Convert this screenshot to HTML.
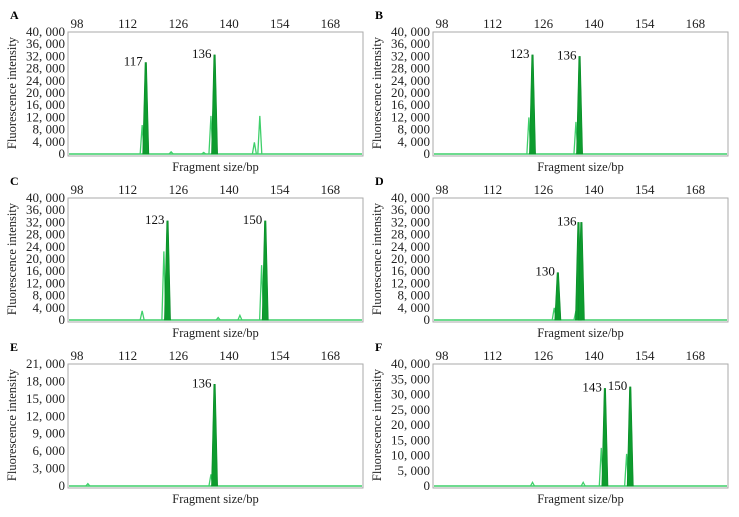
<!DOCTYPE html>
<html><head><meta charset="utf-8"><style>
body{margin:0;background:#fff;font-family:"Liberation Serif","DejaVu Serif",serif;}
svg text{font-family:"Liberation Serif","DejaVu Serif",serif !important;}
</style></head><body>
<svg id="c" width="739" height="512" xmlns="http://www.w3.org/2000/svg" font-family="Liberation Serif, DejaVu Serif, serif"></svg>
<script>
const xTicks=[98,112,126,140,154,168];
const panelLetters=["A","B","C","D","E","F"];
const panelYMax=[40000,40000,40000,40000,21000,40000];
const panelYStep=[4000,4000,4000,4000,3000,5000];
const filledPos=[[117,136],[123,136],[123,150],[130,135.7,136.5],[136],[143,150]];
const filledVal=[[30000,32500],[32500,32000],[32500,32500],[15500,32000,32000],[17500],[32000,32500]];
const labelText=[["117","136"],["123","136"],["123","150"],["130","136"],["136"],["143","150"]];
const labelPos=[[117,136],[123,136],[123,150],[130,136],[136],[143,150]];
const labelVal=[[30000,32500],[32500,32000],[32500,32500],[15500,32000],[17500],[32000,32500]];
const lightPos=[[116,124,133,135,147,148.5],[122,135],[116,122,137,143,149],[129,135],[101,135],[123,137,142,149]];
const lightVal=[[9500,700,500,12500,3800,12500],[12000,10500],[3000,22500,800,1500,18000],[4000,3000],[400,2000],[1200,1200,12500,10500]];

const NS="http://www.w3.org/2000/svg";
const svg=document.getElementById("c");
const FF="Liberation Serif, DejaVu Serif, serif";
function mk(t,a,p){const e=document.createElementNS(NS,t);for(const k in a)e.setAttribute(k,a[k]);if(t==="text")e.setAttribute("font-family",FF);(p||svg).appendChild(e);return e;}
function fmt(v){return v===0?"0":Math.floor(v/1000)+", "+String(v%1000).padStart(3,"0");}

for(let i=0;i<6;i++){
  const col=i%2,row=Math.floor(i/2);
  const L=col?433:68,R=col?728:363,T=32+row*166,B=154+row*166;
  const xs=bp=>L+9+(bp-98)*3.62;
  const ys=v=>B-(v/panelYMax[i])*(B-T);
  const g=mk("g",{});
  
  
  const lt=mk("text",{x:L-58,y:T-13,"font-size":12,"font-weight":"bold"},g);lt.textContent=panelLetters[i];
  
  const box=mk("rect",{x:L,y:T,width:R-L,height:B-T+2,fill:"none",stroke:"#aaa","stroke-width":1},g);
  
  xTicks.forEach(t=>{const e=mk("text",{x:xs(t),y:T-4,"font-size":13,"text-anchor":"middle",fill:"#222"},g);e.textContent=t;
    });
  for(let v=0;v<=panelYMax[i];v+=panelYStep[i]){const e=mk("text",{x:L-3,y:ys(v)+4,"font-size":13,"text-anchor":"end",fill:"#222"},g);e.textContent=fmt(v);
    }
  const yt=mk("text",{transform:`translate(${L-52},${(T+B)/2}) rotate(-90)`,"font-size":12.5,"text-anchor":"middle",fill:"#222"},g);yt.textContent="Fluorescence intensity";
  
  const xt=mk("text",{x:(L+R)/2,y:B+17,"font-size":12.5,"text-anchor":"middle",fill:"#222"},g);xt.textContent="Fragment size/bp";
  
  const bl=mk("line",{x1:L+1,x2:R-1,y1:B,y2:B,stroke:"#3fcf6a","stroke-width":1.5},g);
  
  lightPos[i].forEach((p,j)=>{const w=0.55;const e=mk("polyline",{points:`${xs(p-w)},${B} ${xs(p)},${ys(lightVal[i][j])} ${xs(p+w)},${B}`,fill:"none",stroke:"#3fcf6a","stroke-width":1.3},g);
    });
  filledPos[i].forEach((p,j)=>{const w=0.85;const e=mk("polygon",{points:`${xs(p-w)},${B} ${xs(p-0.2)},${ys(filledVal[i][j])} ${xs(p+0.2)},${ys(filledVal[i][j])} ${xs(p+w)},${B}`,fill:"#0d9c2e",stroke:"#0a8a28","stroke-width":0.6},g);
    });
  labelPos[i].forEach((p,j)=>{const e=mk("text",{x:xs(p)-3,y:ys(labelVal[i][j])+3,"font-size":13,"text-anchor":"end",fill:"#111"},g);e.textContent=labelText[i][j];
    });
}
</script>
</body></html>
